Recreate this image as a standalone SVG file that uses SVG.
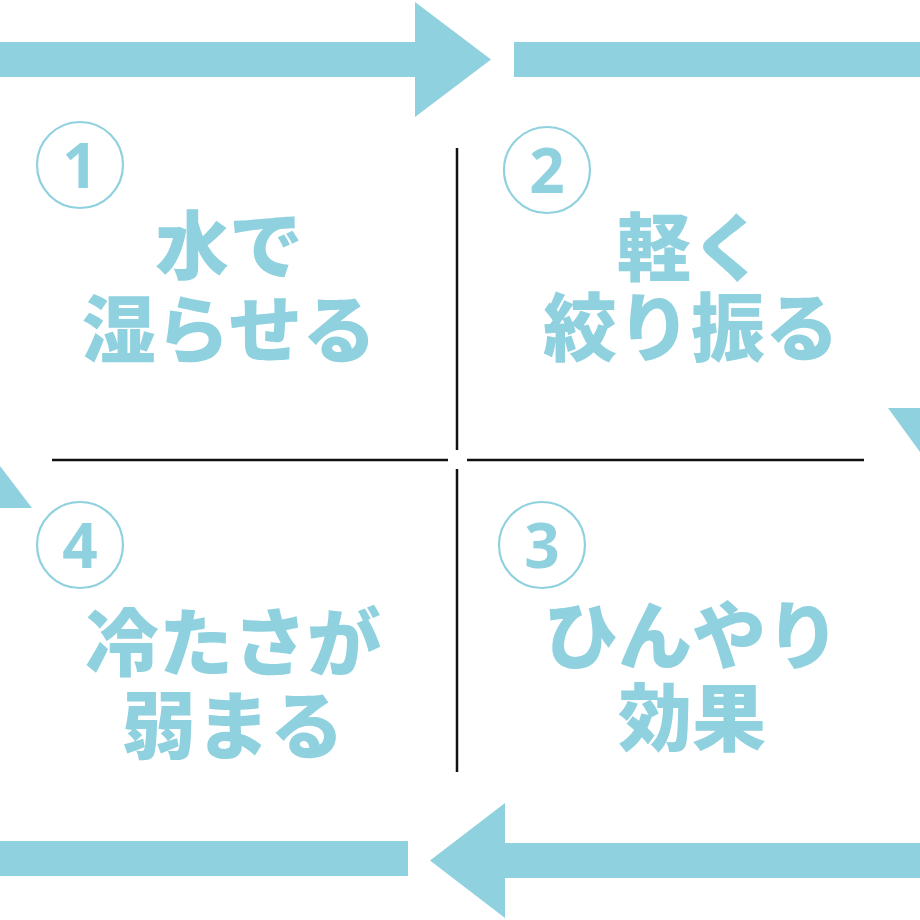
<svg xmlns="http://www.w3.org/2000/svg" width="920" height="920" viewBox="0 0 920 920">
<style>
.ar{fill:#8fd1de}
.ln{stroke:#111;stroke-width:2.5;fill:none}
.cir{fill:none;stroke:#8fd1de;stroke-width:2.2}
.num{font-family:"Noto Sans","Noto Sans CJK JP",sans-serif;font-size:62px;font-weight:700;fill:#8fd1de;text-anchor:middle}
.lbl{font-family:"Noto Sans CJK JP","Noto Sans CJK SC",sans-serif;font-size:74px;font-weight:900;fill:#8fd1de;text-anchor:middle}
</style>
<rect width="920" height="920" fill="#fff"/>
<g id="connectors">
  <polygon class="ar" points="0,42 415,42 415,2 491,59.5 415,117 415,77 0,77"/>
  <rect class="ar" x="514" y="42" width="406" height="35"/>
  <polygon class="ar" points="920,843 505,843 505,803 430,860.5 505,918 505,878 920,878"/>
  <rect class="ar" x="0" y="841" width="408" height="35"/>
  <polygon class="ar" points="888,408 920,408 920,452"/>
  <polygon class="ar" points="0,466 32,508 0,508"/>
  <line class="ln" x1="457" y1="148" x2="457" y2="450"/>
  <line class="ln" x1="457" y1="469" x2="457" y2="772"/>
  <line class="ln" x1="52" y1="460" x2="448" y2="460"/>
  <line class="ln" x1="467" y1="460" x2="864" y2="460"/>
</g>
<g id="step1">
  <circle class="cir" cx="80" cy="165" r="43"/>
  <text class="num" x="80" y="188">1</text>
  <text class="lbl" x="229" y="273">水で</text>
  <text class="lbl" x="229" y="357">湿らせる</text>
</g>
<g id="step2">
  <circle class="cir" cx="547" cy="170" r="43"/>
  <text class="num" x="547" y="193">2</text>
  <text class="lbl" x="691" y="275">軽く</text>
  <text class="lbl" x="691" y="355">絞り振る</text>
</g>
<g id="step3">
  <circle class="cir" cx="542" cy="545" r="43"/>
  <text class="num" x="542" y="568">3</text>
  <text class="lbl" x="692" y="663">ひんやり</text>
  <text class="lbl" x="692" y="745">効果</text>
</g>
<g id="step4">
  <circle class="cir" cx="80" cy="545" r="43"/>
  <text class="num" x="80" y="568">4</text>
  <text class="lbl" x="233" y="670">冷たさが</text>
  <text class="lbl" x="233" y="753">弱まる</text>
</g>
</svg>
